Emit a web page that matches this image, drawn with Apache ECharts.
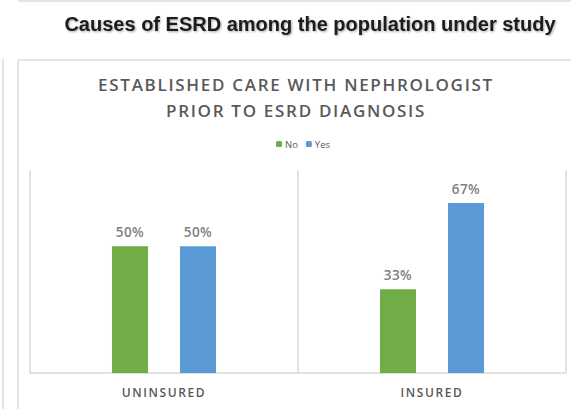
<!DOCTYPE html>
<html>
<head>
<meta charset="utf-8">
<script src="https://cdn.jsdelivr.net/npm/echarts@6/dist/echarts.min.js"></script>
<style>
html,body{margin:0;padding:0;background:#fff;}
#chart{width:571px;height:409px;}
</style>
</head>
<body>
<div id="chart"></div>
<script>
const pageTitle = 'Causes of ESRD among the population under study';
const chartTitleLines = ['ESTABLISHED CARE WITH NEPHROLOGIST', 'PRIOR TO ESRD DIAGNOSIS'];
const categories = ['UNINSURED', 'INSURED'];
const seriesNames = ['No', 'Yes'];
const noValues = [50, 33];
const yesValues = [50, 67];
const yMax = 80;

const chart = echarts.init(document.getElementById('chart'), null, {renderer: 'svg'});
const border = {stroke: '#dcdcdc', lineWidth: 1.5};
const labelStyle = {show: true, position: 'top', distance: 7, formatter: '{c}%', fontFamily: 'Open Sans', fontSize: 13.5, fontWeight: 600, color: '#7f7f7f'};
chart.setOption({
  animation: false,
  backgroundColor: '#ffffff',
  title: [
    {
      text: pageTitle, left: 305, top: 9, textAlign: 'center',
      textStyle: {fontFamily: 'Liberation Sans', fontWeight: 'bold', fontSize: 20, color: '#1a1a1a',
        textShadowColor: 'rgba(0,0,0,0.35)', textShadowBlur: 2, textShadowOffsetX: 1, textShadowOffsetY: 1}
    },
    {
      text: chartTitleLines.join('\n'), left: 291, top: 66, textAlign: 'center',
      textStyle: {fontFamily: 'Open Sans', fontWeight: 600, fontSize: 17, lineHeight: 26, color: '#595959'}
    }
  ],
  legend: {
    data: seriesNames, top: 134, left: 271,
    itemWidth: 6, itemHeight: 6, itemGap: 8,
    textStyle: {fontFamily: 'Open Sans', fontSize: 9.5, color: '#595959', padding: [0,0,0,-2]}
  },
  graphic: [
    {type: 'line', shape: {x1: 18, y1: 1, x2: 571, y2: 1}, style: border, silent: true},
    {type: 'line', shape: {x1: 3, y1: 59, x2: 3, y2: 409}, style: border, silent: true},
    {type: 'line', shape: {x1: 18, y1: 60, x2: 18, y2: 409}, style: border, silent: true},
    {type: 'line', shape: {x1: 18, y1: 60, x2: 571, y2: 60}, style: border, silent: true}
  ],
  grid: {left: 30, right: 5, top: 170, bottom: 36, containLabel: false},
  xAxis: {
    type: 'category', data: categories, boundaryGap: true,
    axisLine: {lineStyle: {color: '#d9d9d9', width: 1.5}},
    axisTick: {show: false},
    splitLine: {show: true, interval: 0, lineStyle: {color: '#d9d9d9', width: 1.5}},
    axisLabel: {fontFamily: 'Open Sans', fontSize: 12, fontWeight: 600, color: '#595959', margin: 13}
  },
  yAxis: {
    type: 'value', min: 0, max: yMax, show: false,
    splitLine: {show: false}
  },
  series: [
    {
      name: seriesNames[0], type: 'bar', data: noValues, barWidth: 36, barGap: '89%',
      itemStyle: {color: '#70ad47'}, label: labelStyle
    },
    {
      name: seriesNames[1], type: 'bar', data: yesValues, barWidth: 36,
      itemStyle: {color: '#5b9bd5'}, label: labelStyle
    }
  ]
});

// letter spacing for the spaced-caps texts (SVG text styling)
function applySpacing() {
  const spaced = {};
  chartTitleLines.forEach(t => spaced[t] = '1.7px');
  categories.forEach(t => spaced[t] = '1.6px');
  document.querySelectorAll('#chart svg text').forEach(el => {
    const t = el.textContent;
    if (spaced[t]) el.style.letterSpacing = spaced[t];
    else if (/^\d+%$/.test(t)) el.style.letterSpacing = '0.4px';
  });
}
applySpacing();
chart.on('finished', applySpacing);
</script>
</body>
</html>
